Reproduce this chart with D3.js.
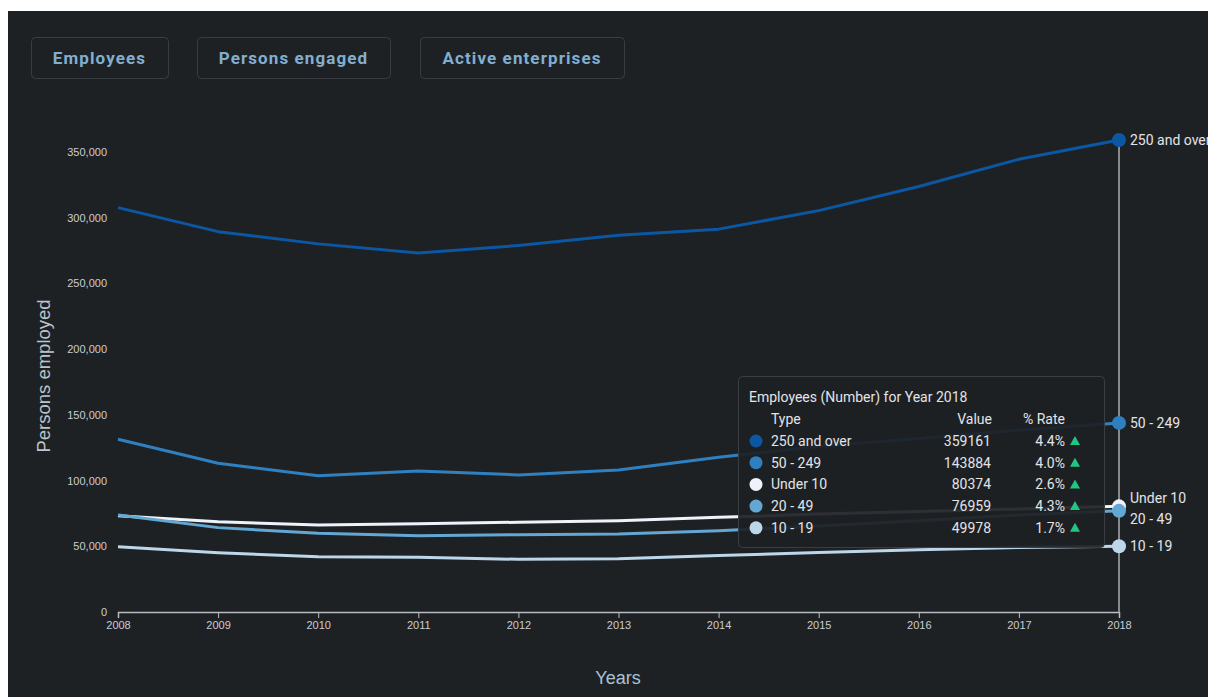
<!DOCTYPE html>
<html>
<head>
<meta charset="utf-8">
<script src="https://cdn.jsdelivr.net/npm/d3@7"></script>
<style>
  html, body { margin: 0; padding: 0; background: #ffffff; }
  svg { display: block; }
</style>
</head>
<body>
<svg id="chart" width="1208" height="697"></svg>
<script>
// ---- Data ----
const years = [2008, 2009, 2010, 2011, 2012, 2013, 2014, 2015, 2016, 2017, 2018];
const seriesNames = ["250 and over", "50 - 249", "Under 10", "20 - 49", "10 - 19"];
const values250 = [307700, 289400, 280100, 273200, 278800, 286700, 291300, 305400, 323700, 344500, 359161];
const values50 = [131400, 113200, 103700, 107300, 104300, 108100, 117700, 126000, 132000, 138350, 143884];
const valuesU10 = [73300, 68700, 66200, 67200, 68300, 69500, 72000, 74500, 76500, 78340, 80374];
const values20 = [73800, 64200, 59900, 58100, 58800, 59400, 61800, 65500, 69500, 73790, 76959];
const values10 = [49700, 45100, 42100, 41600, 40100, 40600, 43000, 45200, 47300, 49140, 49978];
const rates = ["4.4%", "4.0%", "2.6%", "4.3%", "1.7%"];
const yTicks = [0, 50000, 100000, 150000, 200000, 250000, 300000, 350000];
const buttons = ["Employees", "Persons engaged", "Active enterprises"];
const colors = ["#0b57a4", "#2f80c1", "#eef2fa", "#63a8d4", "#bdd7ea"];

const allValues = [values250, values50, valuesU10, values20, values10];
const series = seriesNames.map((n, i) => ({ name: n, values: allValues[i], color: colors[i], rate: rates[i] }));

// ---- Layout ----
const svg = d3.select("#chart");
svg.append("rect").attr("x", 8).attr("y", 11).attr("width", 1200).attr("height", 686).attr("fill", "#1e2124");

// Buttons
const btnX = [31, 197, 420];
const btnW = [137, 193, 204];
buttons.forEach((b, i) => {
  const g = svg.append("g");
  g.append("rect").attr("x", btnX[i] + 0.5).attr("y", 37.5).attr("width", btnW[i]).attr("height", 41)
    .attr("rx", 4).attr("fill", "#1e2124").attr("stroke", "#393c41");
  g.append("text").attr("x", btnX[i] + btnW[i] / 2).attr("y", 58)
    .attr("text-anchor", "middle").attr("dominant-baseline", "central")
    .attr("font-family", "Roboto, sans-serif").attr("font-weight", "bold").attr("font-size", 17)
    .attr("letter-spacing", "1.1px").attr("fill", "#82afd0").text(b);
});

const x = d3.scaleLinear().domain([2008, 2018]).range([118, 1119]);
const y = d3.scaleLinear().domain([0, 350000]).range([612, 152]);

// Y axis (labels only)
const yAxis = svg.append("g").attr("transform", "translate(118,0)")
  .call(d3.axisLeft(y).tickValues(yTicks).tickFormat(d3.format(",")).tickSize(0).tickPadding(11));
yAxis.select(".domain").remove();
yAxis.selectAll("text").attr("font-family", "Liberation Sans, Arial, sans-serif").attr("font-size", 11).attr("fill", "#c9cdd2");

// X axis
const xAxis = svg.append("g").attr("transform", "translate(0,612)")
  .call(d3.axisBottom(x).tickValues(years).tickFormat(d3.format("d")).tickSize(6).tickSizeOuter(6).tickPadding(3));
xAxis.select(".domain").attr("stroke", "#b9bcc0").attr("stroke-width", 1.5);
xAxis.selectAll(".tick line").attr("stroke", "#b9bcc0");
xAxis.selectAll("text").attr("font-family", "Liberation Sans, Arial, sans-serif").attr("font-size", 11).attr("fill", "#c9cdd2");

// Axis titles
svg.append("text").attr("transform", "translate(50,376) rotate(-90)").attr("text-anchor", "middle")
  .attr("font-family", "Liberation Sans, Arial, sans-serif").attr("font-size", 18.5).attr("fill", "#bcc5cd").text("Persons employed");
svg.append("text").attr("x", 618).attr("y", 684).attr("text-anchor", "middle")
  .attr("font-family", "Liberation Sans, Arial, sans-serif").attr("font-size", 18).attr("fill", "#a9c2d6").text("Years");

// Hover line
const lastIdx = years.length - 1;
const lastYear = years[lastIdx];
svg.append("line").attr("x1", x(lastYear)).attr("x2", x(lastYear))
  .attr("y1", y(d3.max(series, s => s.values[lastIdx]))).attr("y2", 612)
  .attr("stroke", "#86898d").attr("stroke-width", 2);

// Lines
const line = d3.line().x((d, i) => x(years[i])).y(d => y(d));
series.forEach(s => {
  svg.append("path").datum(s.values).attr("d", line).attr("fill", "none")
    .attr("stroke", s.color).attr("stroke-width", 3).attr("stroke-linejoin", "round");
});
series.forEach(s => {
  svg.append("circle").attr("cx", x(lastYear)).attr("cy", y(s.values[lastIdx])).attr("r", 7).attr("fill", s.color);
});

// End labels with simple collision avoidance
const labels = series.map(s => ({ name: s.name, y: y(s.values[lastIdx]) })).sort((a, b) => a.y - b.y);
const gap = 21;
for (let k = 0; k < 20; k++) {
  for (let i = 1; i < labels.length; i++) {
    const d = labels[i].y - labels[i - 1].y;
    if (d < gap) {
      const shift = (gap - d) / 2;
      labels[i].y += shift; labels[i - 1].y -= shift;
    }
  }
}
labels.forEach(l => {
  svg.append("text").attr("x", 1130).attr("y", l.y).attr("dominant-baseline", "central")
    .attr("font-family", "Roboto, sans-serif").attr("font-size", 14).attr("fill", "#e2e4e7").text(l.name);
});

// Tooltip
const tt = svg.append("g");
tt.append("rect").attr("x", 738.5).attr("y", 376.5).attr("width", 366).attr("height", 171).attr("rx", 4)
  .attr("fill", "rgba(29,32,35,0.93)").attr("stroke", "#3a3d42");
const tf = "Roboto, sans-serif";
const fs = 14;
tt.append("text").attr("x", 749).attr("y", 397).attr("dominant-baseline", "central")
  .attr("font-family", tf).attr("font-size", fs).attr("fill", "#e2e4e7").text("Employees (Number) for Year " + lastYear);
tt.append("text").attr("x", 771).attr("y", 419).attr("dominant-baseline", "central")
  .attr("font-family", tf).attr("font-size", fs).attr("fill", "#e2e4e7").text("Type");
tt.append("text").attr("x", 992).attr("y", 419).attr("dominant-baseline", "central").attr("text-anchor", "end")
  .attr("font-family", tf).attr("font-size", fs).attr("fill", "#e2e4e7").text("Value");
tt.append("text").attr("x", 1065).attr("y", 419).attr("dominant-baseline", "central").attr("text-anchor", "end")
  .attr("font-family", tf).attr("font-size", fs).attr("fill", "#e2e4e7").text("% Rate");
const rowY = d3.scaleLinear().domain([0, 1]).range([441, 462.7]);
series.forEach((s, i) => {
  const cy = rowY(i);
  tt.append("circle").attr("cx", 756).attr("cy", cy).attr("r", 6.5).attr("fill", s.color);
  tt.append("text").attr("x", 771).attr("y", cy).attr("dominant-baseline", "central")
    .attr("font-family", tf).attr("font-size", fs).attr("fill", "#e2e4e7").text(s.name);
  tt.append("text").attr("x", 991).attr("y", cy).attr("dominant-baseline", "central").attr("text-anchor", "end")
    .attr("font-family", tf).attr("font-size", fs).attr("fill", "#e2e4e7").text(s.values[lastIdx]);
  tt.append("text").attr("x", 1065).attr("y", cy).attr("dominant-baseline", "central").attr("text-anchor", "end")
    .attr("font-family", tf).attr("font-size", fs).attr("fill", "#e2e4e7").text(s.rate);
  tt.append("path").attr("d", `M${1075},${cy - 5} L${1080},${cy + 4} L${1070},${cy + 4} Z`).attr("fill", "#22c584");
});
</script>
</body>
</html>
